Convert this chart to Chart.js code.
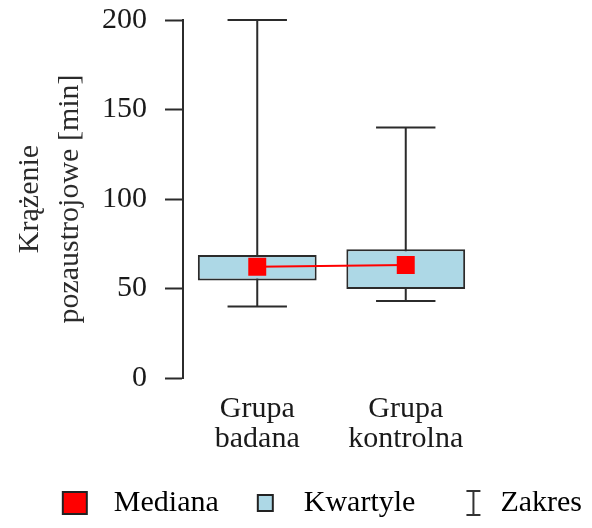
<!DOCTYPE html>
<html>
<head>
<meta charset="utf-8">
<script src="https://cdn.jsdelivr.net/npm/chart.js@4.4.1/dist/chart.umd.min.js"></script>
<style>
  html, body { margin: 0; padding: 0; background: #fff; }
  #wrap { width: 592px; height: 528px; }
</style>
</head>
<body>
<div id="wrap"><canvas id="chart" width="592" height="528"></canvas></div>
<script>
// values
const categories = [['Grupa', 'badana'], ['Grupa', 'kontrolna']];
const minValues = [40, 43];
const q1Values = [54.4, 49.7];
const medianValues = [62.2, 63.1];
const q3Values = [68.7, 71.9];
const maxValues = [200, 140];
const yTicks = [0, 50, 100, 150, 200];
const legendLabels = ['Mediana', 'Kwartyle', 'Zakres'];

const FONT = "'Liberation Serif', 'Times New Roman', serif";
const INK = '#2b2b2b';
const BOX_FILL = '#add8e6';
const RED = '#f00';

// little pictures for the legend, glyph offset inside a 60x30 canvas
function legendIcon(draw) {
    const c = document.createElement('canvas');
    c.width = 60;
    c.height = 30;
    const ctx = c.getContext('2d');
    draw(ctx);
    return c;
}
const medianIcon = legendIcon((ctx) => {
    ctx.fillStyle = RED;
    ctx.fillRect(24, 4, 24, 22);
    ctx.strokeStyle = '#222';
    ctx.lineWidth = 2;
    ctx.strokeRect(24, 4, 24, 22);
});
const quartIcon = legendIcon((ctx) => {
    ctx.fillStyle = BOX_FILL;
    ctx.fillRect(29, 7, 15, 16);
    ctx.strokeStyle = '#222';
    ctx.lineWidth = 2;
    ctx.strokeRect(29, 7, 15, 16);
});
const rangeIcon = legendIcon((ctx) => {
    ctx.strokeStyle = '#333';
    ctx.lineWidth = 2;
    ctx.beginPath();
    ctx.moveTo(41, 3); ctx.lineTo(55, 3);
    ctx.moveTo(48, 3); ctx.lineTo(48, 27);
    ctx.moveTo(41, 27); ctx.lineTo(55, 27);
    ctx.stroke();
});
const legendIcons = [medianIcon, quartIcon, rangeIcon];

const whiskers = {
    id: 'whiskers',
    beforeDatasetsDraw(chart) {
        const x = chart.scales.x;
        const y = chart.scales.y;
        const ctx = chart.ctx;
        const half = (x.getPixelForValue(1) - x.getPixelForValue(0)) * 0.2;
        ctx.save();
        ctx.strokeStyle = INK;
        ctx.lineWidth = 2;
        categories.forEach((c, i) => {
            const cx = x.getPixelForValue(i);
            const yMin = y.getPixelForValue(minValues[i]);
            const yMax = y.getPixelForValue(maxValues[i]);
            ctx.beginPath();
            ctx.moveTo(cx, yMin); ctx.lineTo(cx, yMax);
            ctx.moveTo(cx - half, yMin); ctx.lineTo(cx + half, yMin);
            ctx.moveTo(cx - half, yMax); ctx.lineTo(cx + half, yMax);
            ctx.stroke();
        });
        ctx.restore();
    }
};

new Chart(document.getElementById('chart'), {
    type: 'bar',
    data: {
        labels: categories,
        datasets: [{
            type: 'line',
            label: legendLabels[0],
            data: medianValues,
            order: 0,
            borderColor: RED,
            borderWidth: 2,
            pointStyle: 'rect',
            pointRadius: 12.7,
            pointBackgroundColor: RED,
            pointBorderWidth: 0,
        }, {
            label: legendLabels[1],
            data: q1Values.map((v, i) => [v, q3Values[i]]),
            order: 1,
            backgroundColor: BOX_FILL,
            borderColor: INK,
            borderWidth: 2,
            borderSkipped: false,
            barPercentage: 0.8,
            categoryPercentage: 1,
        }],
    },
    options: {
        responsive: false,
        animation: false,
        layout: { padding: { top: 20, right: 0, left: 0, bottom: 0 } },
        scales: {
            x: {
                grid: { display: false },
                border: { display: false },
                afterFit(scale) { scale.height += 16; },
                ticks: {
                    color: '#1a1a1a',
                    padding: 8,
                    font: { family: FONT, size: 30, lineHeight: 1.0 },
                },
            },
            y: {
                min: 0,
                max: 200,
                afterBuildTicks(scale) {
                    scale.ticks = yTicks.map((v) => ({ value: v }));
                },
                afterFit(scale) {
                    scale.width = 183;
                    scale.paddingTop = 0;
                    scale.paddingBottom = 0;
                },
                grid: {
                    drawOnChartArea: false,
                    drawTicks: true,
                    tickLength: 18,
                    tickColor: INK,
                    tickWidth: 2,
                },
                border: { display: true, color: INK, width: 2 },
                ticks: {
                    color: '#1a1a1a',
                    padding: 18,
                    font: { family: FONT, size: 30 },
                },
                title: {
                    display: true,
                    text: ['Krążenie', 'pozaustrojowe [min]'],
                    color: '#2b2b2b',
                    padding: { top: 10, bottom: 0 },
                    font: { family: FONT, size: 30, lineHeight: 1.33 },
                },
            },
            // empty right-hand box, keeps the plot away from the right edge
            spacer: {
                axis: 'y',
                position: 'right',
                display: true,
                min: 0,
                max: 200,
                afterFit(scale) { scale.width = 112; },
                grid: { display: false },
                border: { display: false },
                ticks: { display: false },
            },
        },
        plugins: {
            tooltip: { enabled: false },
            legend: {
                position: 'bottom',
                align: 'end',
                onClick: () => {},
                labels: {
                    usePointStyle: true,
                    pointStyleWidth: 60,
                    padding: 10,
                    color: '#1a1a1a',
                    font: { family: FONT, size: 30 },
                    generateLabels: () => legendLabels.map((t, i) => ({
                        text: t,
                        pointStyle: legendIcons[i],
                        fillStyle: 'transparent',
                        strokeStyle: 'transparent',
                        lineWidth: 0,
                        hidden: false,
                        datasetIndex: i,
                    })),
                },
            },
        },
    },
    plugins: [whiskers],
});
</script>
</body>
</html>
